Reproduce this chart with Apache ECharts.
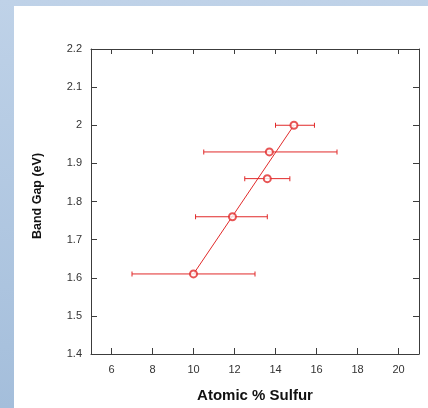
<!DOCTYPE html>
<html>
<head>
<meta charset="utf-8">
<title>Band Gap vs Atomic % Sulfur</title>
<script src="https://cdn.jsdelivr.net/npm/echarts@6/dist/echarts.min.js"></script>
<style>
  html, body { margin: 0; padding: 0; width: 428px; height: 408px; overflow: hidden; }
  body { background: linear-gradient(#bfd2e8, #a4bedb); position: relative; }
  #panel { position: absolute; left: 14px; top: 6px; right: 0; bottom: 0; background: #ffffff; }
  #chart { position: absolute; left: 0; top: 0; width: 428px; height: 408px; }
</style>
</head>
<body>
<div id="panel"></div>
<div id="chart"></div>
<script>
// Measured samples: sulfur content (atomic %) with its spread, and the band gap (eV)
const sulfur        = [10, 11.9, 13.6, 13.7, 14.9];
const bandGap       = [1.61, 1.76, 1.86, 1.93, 2.0];
const sulfurLow     = [7, 10.1, 12.5, 10.5, 14];
const sulfurHigh    = [13, 13.6, 14.7, 17, 15.9];

// Axis ranges and tick labels
const xTicks = [6, 8, 10, 12, 14, 16, 18, 20];
const xRange = [5, 21];
const yRange = [1.4, 2.2];

const RED = '#e12a2a';
const AXIS = '#3c3c3c';
const FONT = '"Liberation Sans", Arial, Helvetica, sans-serif';

const points = sulfur.map((s, i) => [s, bandGap[i]]);
// trend line from the lowest to the highest sample
const trend = [points[0], points[points.length - 1]];

// one horizontal bar with end caps per sample
const errorSeries = sulfur.map((s, i) => ({
  name: 'Sulfur spread ' + (i + 1),
  type: 'line', xAxisIndex: 0, yAxisIndex: 0,
  data: [[sulfurLow[i], bandGap[i]], [sulfurHigh[i], bandGap[i]]],
  symbol: 'rect', symbolSize: [1, 5], showSymbol: true,
  itemStyle: { color: RED },
  lineStyle: { color: RED, width: 1 },
  z: 2, silent: true
}));

const chart = echarts.init(document.getElementById('chart'), null, { renderer: 'canvas' });

const tickLabel = { color: '#333', fontSize: 11, fontFamily: FONT };
const axisLine = { show: true, lineStyle: { color: AXIS, width: 1 } };

chart.setOption({
  backgroundColor: 'transparent',
  animation: false,
  grid: { left: 91, right: 9, top: 49, bottom: 52, containLabel: false },
  xAxis: [
    {
      type: 'value', position: 'bottom', min: xRange[0], max: xRange[1],
      name: 'Atomic % Sulfur', nameLocation: 'middle', nameGap: 34,
      nameTextStyle: { fontFamily: FONT, fontSize: 15, fontWeight: 'bold', color: '#111' },
      axisLine: axisLine,
      axisTick: { show: true, inside: true, length: 6, customValues: xTicks, lineStyle: { color: AXIS } },
      axisLabel: Object.assign({ margin: 10, customValues: xTicks }, tickLabel),
      splitLine: { show: false }
    },
    {
      type: 'value', position: 'top', min: xRange[0], max: xRange[1],
      axisLine: axisLine,
      axisTick: { show: true, inside: true, length: 5, customValues: xTicks, lineStyle: { color: AXIS } },
      axisLabel: { show: false },
      splitLine: { show: false }
    }
  ],
  yAxis: [
    {
      type: 'value', position: 'left', min: yRange[0], max: yRange[1], interval: 0.1,
      name: 'Band Gap (eV)', nameLocation: 'middle', nameGap: 47, nameRotate: 90,
      nameTextStyle: { fontFamily: FONT, fontSize: 12.5, fontWeight: 'bold', color: '#111', padding: [0, 0, 0, 11] },
      axisLine: axisLine,
      axisTick: { show: true, inside: true, length: 6, lineStyle: { color: AXIS } },
      axisLabel: Object.assign({ margin: 9 }, tickLabel),
      splitLine: { show: false }
    },
    {
      type: 'value', position: 'right', min: yRange[0], max: yRange[1], interval: 0.1,
      axisLine: axisLine,
      axisTick: { show: true, inside: true, length: 6, lineStyle: { color: AXIS } },
      axisLabel: { show: false },
      splitLine: { show: false }
    }
  ],
  series: errorSeries.concat([
    {
      name: 'Trend', type: 'line', xAxisIndex: 0, yAxisIndex: 0,
      data: trend, showSymbol: false, lineStyle: { color: RED, width: 1 }, z: 3, silent: true
    },
    {
      name: 'Band gap', type: 'scatter', xAxisIndex: 0, yAxisIndex: 0,
      data: points, symbol: 'emptyCircle', symbolSize: 7,
      itemStyle: { color: RED, borderColor: RED, borderWidth: 1.2 }, z: 4
    }
  ])
});
</script>
</body>
</html>
